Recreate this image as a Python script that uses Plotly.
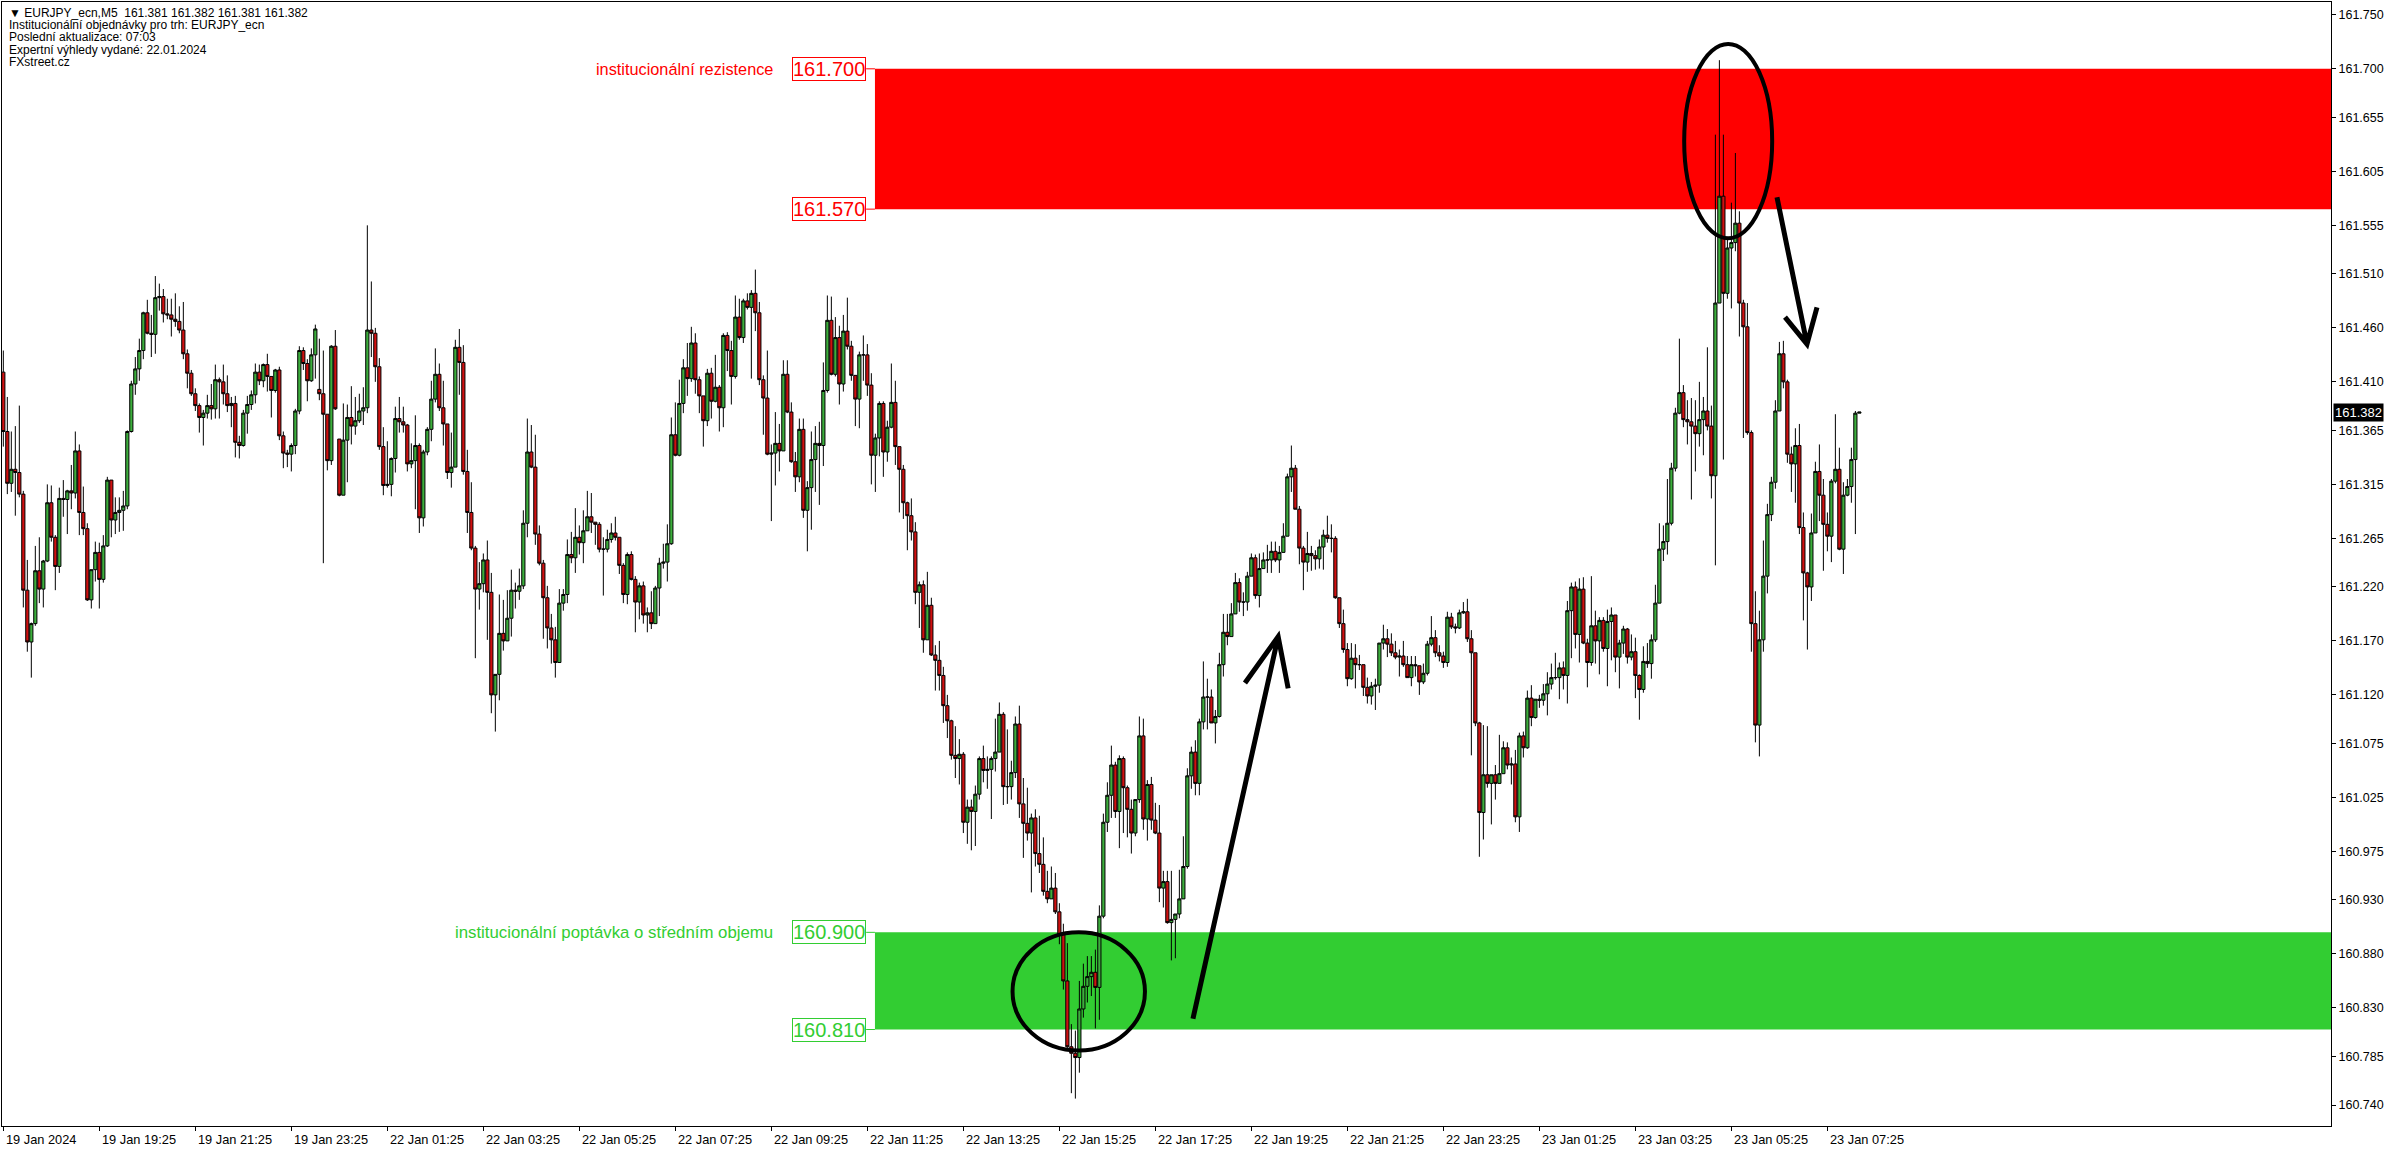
import plotly.graph_objects as go

# ---------------- data (EURJPY_ecn, M5) ----------------
first_open = 161.419
gap_opens = {79: 161.403, 84: 161.357}   # bars that open away from the previous close

closes = [
    161.364, 161.316, 161.329, 161.326, 161.306, 161.217, 161.169, 161.186, 161.235, 161.218,
    161.244, 161.298, 161.266, 161.239, 161.302, 161.301, 161.309, 161.307, 161.346, 161.289,
    161.274, 161.208, 161.236, 161.252, 161.227, 161.258, 161.319, 161.282, 161.289, 161.291,
    161.295, 161.364, 161.408, 161.422, 161.439, 161.474, 161.455, 161.454, 161.488, 161.489,
    161.473, 161.472, 161.468, 161.466, 161.458, 161.436, 161.418, 161.399, 161.388, 161.377,
    161.381, 161.388, 161.385, 161.412, 161.410, 161.399, 161.388, 161.390, 161.354, 161.351,
    161.381, 161.389, 161.398, 161.419, 161.411, 161.426, 161.415, 161.402, 161.421, 161.360,
    161.344, 161.343, 161.351, 161.383, 161.439, 161.427, 161.411, 161.435, 161.459, 161.399,
    161.380, 161.337, 161.443, 161.385, 161.305, 161.356, 161.377, 161.369, 161.374, 161.383,
    161.386, 161.458, 161.455, 161.424, 161.350, 161.314, 161.315, 161.339, 161.376, 161.373,
    161.370, 161.334, 161.337, 161.351, 161.284, 161.345, 161.366, 161.394, 161.417, 161.386,
    161.371, 161.326, 161.331, 161.442, 161.428, 161.327, 161.289, 161.256, 161.218, 161.223,
    161.245, 161.215, 161.120, 161.139, 161.177, 161.170, 161.191, 161.217, 161.216, 161.221,
    161.279, 161.345, 161.331, 161.269, 161.242, 161.210, 161.182, 161.171, 161.150, 161.205,
    161.213, 161.250, 161.247, 161.266, 161.261, 161.272, 161.285, 161.280, 161.278, 161.255,
    161.255, 161.264, 161.270, 161.266, 161.240, 161.213, 161.250, 161.227, 161.206, 161.221,
    161.194, 161.196, 161.186, 161.219, 161.242, 161.243, 161.260, 161.361, 161.342, 161.390,
    161.423, 161.413, 161.446, 161.412, 161.397, 161.374, 161.418, 161.392, 161.405, 161.386,
    161.453, 161.439, 161.415, 161.470, 161.451, 161.485, 161.479, 161.492, 161.474, 161.412,
    161.395, 161.343, 161.344, 161.353, 161.346, 161.417, 161.382, 161.336, 161.322, 161.366,
    161.291, 161.312, 161.338, 161.353, 161.351, 161.402, 161.467, 161.417, 161.451, 161.408,
    161.457, 161.443, 161.416, 161.394, 161.435, 161.435, 161.407, 161.342, 161.358, 161.390,
    161.345, 161.368, 161.391, 161.350, 161.329, 161.298, 161.286, 161.271, 161.215, 161.222,
    161.171, 161.203, 161.157, 161.152, 161.138, 161.110, 161.096, 161.064, 161.061, 161.065,
    161.002, 161.016, 161.012, 161.028, 161.061, 161.050, 161.051, 161.061, 161.067, 161.102,
    161.035, 161.035, 161.048, 161.093, 161.019, 161.001, 160.992, 161.006, 160.973, 160.963,
    160.938, 160.931, 160.941, 160.919, 160.898, 160.855, 160.794, 160.788, 160.784, 160.829,
    160.850, 160.859, 160.863, 160.849, 160.915, 161.002, 161.027, 161.055, 161.012, 161.061,
    161.034, 161.014, 160.992, 161.023, 161.082, 161.005, 161.037, 161.004, 160.992, 160.941,
    160.947, 160.909, 160.912, 160.917, 160.931, 160.961, 161.045, 161.067, 161.038, 161.095,
    161.118, 161.118, 161.094, 161.100, 161.148, 161.178, 161.174, 161.195, 161.224, 161.206,
    161.206, 161.230, 161.247, 161.212, 161.237, 161.245, 161.245, 161.253, 161.245, 161.252,
    161.267, 161.322, 161.330, 161.292, 161.256, 161.243, 161.251, 161.249, 161.246, 161.257,
    161.268, 161.265, 161.265, 161.210, 161.186, 161.162, 161.135, 161.154, 161.148, 161.148,
    161.127, 161.119, 161.128, 161.129, 161.168, 161.172, 161.167, 161.159, 161.155, 161.156,
    161.148, 161.136, 161.148, 161.147, 161.132, 161.140, 161.167, 161.173, 161.159, 161.156,
    161.150, 161.192, 161.183, 161.182, 161.196, 161.197, 161.172, 161.159, 161.094, 161.011,
    161.046, 161.038, 161.046, 161.038, 161.047, 161.071, 161.055, 161.056, 161.007, 161.082,
    161.071, 161.117, 161.099, 161.116, 161.115, 161.121, 161.130, 161.136, 161.136, 161.145,
    161.138, 161.198, 161.220, 161.176, 161.218, 161.168, 161.150, 161.184, 161.170, 161.189,
    161.163, 161.188, 161.194, 161.155, 161.168, 161.181, 161.155, 161.160, 161.138, 161.125,
    161.151, 161.149, 161.171, 161.205, 161.255, 161.262, 161.279, 161.330, 161.381, 161.400,
    161.375, 161.373, 161.369, 161.362, 161.375, 161.383, 161.369, 161.323, 161.483, 161.582,
    161.492, 161.534, 161.539, 161.557, 161.483, 161.461, 161.363, 161.186, 161.092, 161.171,
    161.230, 161.287, 161.317, 161.383, 161.436, 161.410, 161.343, 161.334, 161.351, 161.275,
    161.233, 161.220, 161.270, 161.327, 161.305, 161.278, 161.267, 161.318, 161.329, 161.255,
    161.305, 161.313, 161.338, 161.381, 161.382,
]

highs = [
    161.439, 161.396, 161.364, 161.369, 161.388, 161.309, 161.245, 161.187, 161.258, 161.266,
    161.245, 161.315, 161.314, 161.268, 161.312, 161.319, 161.310, 161.333, 161.364, 161.352,
    161.313, 161.279, 161.236, 161.262, 161.261, 161.268, 161.322, 161.319, 161.303, 161.303,
    161.309, 161.365, 161.411, 161.433, 161.450, 161.475, 161.486, 161.472, 161.508, 161.501,
    161.496, 161.487, 161.487, 161.492, 161.480, 161.484, 161.440, 161.421, 161.404, 161.390,
    161.384, 161.398, 161.408, 161.426, 161.414, 161.426, 161.416, 161.396, 161.397, 161.360,
    161.384, 161.397, 161.402, 161.427, 161.426, 161.427, 161.436, 161.411, 161.422, 161.424,
    161.364, 161.347, 161.353, 161.385, 161.443, 161.442, 161.431, 161.441, 161.463, 161.450,
    161.439, 161.379, 161.444, 161.458, 161.357, 161.390, 161.389, 161.406, 161.396, 161.399,
    161.405, 161.555, 161.503, 161.460, 161.432, 161.368, 161.355, 161.340, 161.387, 161.396,
    161.387, 161.371, 161.353, 161.379, 161.353, 161.347, 161.368, 161.411, 161.441, 161.427,
    161.411, 161.371, 161.363, 161.449, 161.459, 161.444, 161.347, 161.317, 161.258, 161.243,
    161.251, 161.263, 161.233, 161.139, 161.213, 161.208, 161.217, 161.236, 161.224, 161.237,
    161.291, 161.376, 161.370, 161.361, 161.277, 161.245, 161.221, 161.195, 161.183, 161.218,
    161.218, 161.264, 161.271, 161.293, 161.277, 161.291, 161.309, 161.307, 161.280, 161.280,
    161.266, 161.273, 161.279, 161.285, 161.266, 161.242, 161.252, 161.253, 161.230, 161.224,
    161.225, 161.201, 161.216, 161.221, 161.247, 161.260, 161.278, 161.377, 161.391, 161.412,
    161.431, 161.446, 161.461, 161.455, 161.415, 161.397, 161.422, 161.423, 161.435, 161.407,
    161.455, 161.456, 161.448, 161.490, 161.487, 161.487, 161.492, 161.495, 161.514, 161.484,
    161.416, 161.439, 161.352, 161.382, 161.371, 161.430, 161.430, 161.391, 161.345, 161.376,
    161.376, 161.318, 161.364, 161.369, 161.373, 161.428, 161.490, 161.489, 161.470, 161.462,
    161.472, 161.488, 161.448, 161.415, 161.438, 161.453, 161.445, 161.418, 161.362, 161.392,
    161.392, 161.374, 161.427, 161.411, 161.350, 161.333, 161.299, 161.302, 161.280, 161.225,
    161.226, 161.234, 161.210, 161.166, 161.170, 161.146, 161.120, 161.097, 161.091, 161.079,
    161.067, 161.023, 161.023, 161.036, 161.063, 161.073, 161.063, 161.063, 161.098, 161.113,
    161.104, 161.088, 161.059, 161.100, 161.110, 161.043, 161.034, 161.010, 161.014, 161.008,
    160.988, 160.957, 160.961, 160.955, 160.927, 160.908, 160.890, 160.815, 160.809, 160.855,
    160.871, 160.878, 160.878, 160.884, 160.925, 161.010, 161.039, 161.073, 161.058, 161.064,
    161.063, 161.036, 161.023, 161.023, 161.100, 161.098, 161.041, 161.044, 161.020, 161.018,
    160.957, 160.957, 160.957, 160.917, 160.958, 160.989, 161.052, 161.072, 161.078, 161.098,
    161.151, 161.135, 161.125, 161.106, 161.159, 161.195, 161.195, 161.205, 161.233, 161.228,
    161.215, 161.234, 161.251, 161.250, 161.251, 161.252, 161.259, 161.262, 161.262, 161.258,
    161.279, 161.325, 161.351, 161.333, 161.295, 161.258, 161.271, 161.258, 161.254, 161.264,
    161.273, 161.286, 161.278, 161.267, 161.210, 161.199, 161.168, 161.168, 161.167, 161.157,
    161.146, 161.136, 161.132, 161.135, 161.168, 161.185, 161.181, 161.177, 161.170, 161.162,
    161.170, 161.156, 161.156, 161.156, 161.147, 161.149, 161.170, 161.193, 161.180, 161.166,
    161.160, 161.197, 161.196, 161.186, 161.199, 161.206, 161.209, 161.180, 161.159, 161.095,
    161.092, 161.091, 161.046, 161.055, 161.083, 161.077, 161.076, 161.062, 161.069, 161.085,
    161.086, 161.124, 161.129, 161.116, 161.120, 161.130, 161.141, 161.149, 161.159, 161.150,
    161.151, 161.207, 161.224, 161.225, 161.228, 161.229, 161.172, 161.230, 161.198, 161.192,
    161.192, 161.199, 161.201, 161.189, 161.171, 161.184, 161.182, 161.176, 161.173, 161.139,
    161.165, 161.168, 161.176, 161.222, 161.279, 161.277, 161.320, 161.335, 161.386, 161.450,
    161.407, 161.393, 161.395, 161.393, 161.410, 161.396, 161.442, 161.388, 161.639, 161.708,
    161.639, 161.544, 161.576, 161.622, 161.568, 161.486, 161.483, 161.365, 161.216, 161.198,
    161.263, 161.297, 161.322, 161.393, 161.447, 161.448, 161.412, 161.350, 161.367, 161.371,
    161.289, 161.234, 161.288, 161.336, 161.352, 161.320, 161.289, 161.320, 161.380, 161.349,
    161.317, 161.320, 161.349, 161.383, 161.382,
]

lows = [
    161.350, 161.306, 161.308, 161.286, 161.303, 161.201, 161.160, 161.136, 161.184, 161.205,
    161.201, 161.243, 161.262, 161.217, 161.233, 161.285, 161.269, 161.292, 161.302, 161.268,
    161.268, 161.207, 161.200, 161.225, 161.200, 161.224, 161.257, 161.266, 161.269, 161.271,
    161.272, 161.292, 161.363, 161.398, 161.411, 161.431, 161.454, 161.433, 161.436, 161.476,
    161.465, 161.468, 161.452, 161.461, 161.455, 161.431, 161.404, 161.397, 161.383, 161.363,
    161.351, 161.376, 161.375, 161.376, 161.376, 161.389, 161.382, 161.368, 161.340, 161.339,
    161.350, 161.362, 161.384, 161.390, 161.407, 161.405, 161.401, 161.377, 161.400, 161.356,
    161.330, 161.331, 161.327, 161.343, 161.380, 161.421, 161.392, 161.410, 161.413, 161.393,
    161.242, 161.328, 161.333, 161.384, 161.304, 161.306, 161.317, 161.352, 161.361, 161.372,
    161.370, 161.381, 161.433, 161.410, 161.347, 161.305, 161.312, 161.304, 161.326, 161.363,
    161.363, 161.327, 161.330, 161.292, 161.270, 161.276, 161.342, 161.355, 161.391, 161.383,
    161.351, 161.320, 161.312, 161.333, 161.398, 161.324, 161.270, 161.254, 161.154, 161.199,
    161.215, 161.171, 161.103, 161.086, 161.115, 161.161, 161.170, 161.174, 161.200, 161.208,
    161.218, 161.266, 161.330, 161.259, 161.240, 161.172, 161.163, 161.149, 161.136, 161.150,
    161.198, 161.205, 161.242, 161.233, 161.250, 161.242, 161.272, 161.270, 161.259, 161.252,
    161.212, 161.252, 161.261, 161.263, 161.232, 161.205, 161.204, 161.226, 161.178, 161.190,
    161.186, 161.178, 161.181, 161.186, 161.193, 161.237, 161.225, 161.259, 161.341, 161.341,
    161.381, 161.397, 161.410, 161.399, 161.381, 161.350, 161.369, 161.376, 161.391, 161.364,
    161.368, 161.420, 161.389, 161.413, 161.449, 161.446, 161.477, 161.413, 161.457, 161.407,
    161.361, 161.342, 161.281, 161.314, 161.327, 161.347, 161.381, 161.335, 161.308, 161.317,
    161.284, 161.253, 161.273, 161.308, 161.296, 161.332, 161.400, 161.416, 161.415, 161.389,
    161.401, 161.440, 161.411, 161.369, 161.367, 161.411, 161.397, 161.315, 161.308, 161.341,
    161.322, 161.336, 161.367, 161.333, 161.289, 161.283, 161.254, 161.263, 161.204, 161.182,
    161.159, 161.171, 161.156, 161.124, 161.124, 161.094, 161.080, 161.060, 161.043, 161.037,
    160.992, 160.982, 160.976, 160.980, 161.023, 161.039, 161.033, 161.005, 161.049, 161.067,
    161.018, 161.019, 161.023, 161.043, 161.006, 160.969, 160.985, 160.937, 160.961, 160.955,
    160.934, 160.927, 160.933, 160.917, 160.889, 160.847, 160.793, 160.751, 160.746, 160.770,
    160.821, 160.835, 160.841, 160.811, 160.819, 160.913, 160.993, 161.006, 161.006, 160.978,
    160.992, 160.988, 160.973, 160.989, 161.020, 160.995, 160.985, 160.995, 160.991, 160.928,
    160.923, 160.908, 160.874, 160.876, 160.913, 160.931, 160.959, 161.033, 161.027, 161.027,
    161.088, 161.088, 161.094, 161.075, 161.099, 161.137, 161.166, 161.174, 161.195, 161.197,
    161.193, 161.198, 161.230, 161.209, 161.201, 161.237, 161.233, 161.233, 161.243, 161.233,
    161.252, 161.267, 161.308, 161.292, 161.241, 161.217, 161.234, 161.235, 161.236, 161.237,
    161.236, 161.261, 161.252, 161.209, 161.182, 161.159, 161.128, 161.134, 161.126, 161.143,
    161.119, 161.112, 161.111, 161.106, 161.122, 161.162, 161.155, 161.156, 161.153, 161.137,
    161.146, 161.136, 161.128, 161.137, 161.120, 161.130, 161.138, 161.165, 161.155, 161.151,
    161.145, 161.146, 161.181, 161.177, 161.181, 161.195, 161.169, 161.064, 161.091, 160.970,
    160.986, 161.034, 161.000, 161.023, 161.038, 161.047, 161.051, 161.037, 161.002, 160.993,
    161.062, 161.070, 161.091, 161.098, 161.108, 161.110, 161.101, 161.125, 161.134, 161.116,
    161.125, 161.112, 161.154, 161.163, 161.150, 161.167, 161.127, 161.147, 161.149, 161.139,
    161.160, 161.128, 161.152, 161.141, 161.126, 161.158, 161.149, 161.152, 161.117, 161.097,
    161.122, 161.145, 161.135, 161.169, 161.205, 161.244, 161.250, 161.277, 161.327, 161.380,
    161.368, 161.352, 161.301, 161.327, 161.350, 161.342, 161.365, 161.302, 161.240, 161.487,
    161.338, 161.487, 161.478, 161.531, 161.452, 161.358, 161.361, 161.160, 161.076, 161.063,
    161.160, 161.214, 161.281, 161.311, 161.387, 161.404, 161.335, 161.308, 161.298, 161.269,
    161.189, 161.162, 161.207, 161.270, 161.281, 161.235, 161.253, 161.243, 161.316, 161.254,
    161.232, 161.304, 161.298, 161.269, 161.381,
]

tick_index = [0, 24, 48, 72, 96, 120, 144, 168, 192, 216,
              240, 264, 288, 312, 336, 360, 384, 408, 432, 456]
tick_labels = ["19 Jan 2024", "19 Jan 19:25", "19 Jan 21:25", "19 Jan 23:25",
               "22 Jan 01:25", "22 Jan 03:25", "22 Jan 05:25", "22 Jan 07:25",
               "22 Jan 09:25", "22 Jan 11:25", "22 Jan 13:25", "22 Jan 15:25",
               "22 Jan 17:25", "22 Jan 19:25", "22 Jan 21:25", "22 Jan 23:25",
               "23 Jan 01:25", "23 Jan 03:25", "23 Jan 05:25", "23 Jan 07:25"]
price_ticks = [161.750, 161.700, 161.655, 161.605, 161.555, 161.510, 161.460, 161.410,
               161.365, 161.315, 161.265, 161.220, 161.170, 161.120, 161.075, 161.025,
               160.975, 160.930, 160.880, 160.830, 160.785, 160.740]

resistance_zone = (161.570, 161.700)
demand_zone = (160.810, 160.900)
last_price = 161.382

header_lines = ["\u25bc EURJPY_ecn,M5  161.381 161.382 161.381 161.382",
                "Institucionální objednávky pro trh: EURJPY_ecn",
                "Poslední aktualizace: 07:03",
                "Expertní výhledy vydané: 22.01.2024",
                "FXstreet.cz"]

# ---------------- build OHLC ----------------
opens = []
for i in range(len(closes)):
    if i == 0:
        opens.append(first_open)
    elif i in gap_opens:
        opens.append(gap_opens[i])
    else:
        opens.append(closes[i - 1])
highs = [max(h, o, c) for h, o, c in zip(highs, opens, closes)]
lows = [min(l, o, c) for l, o, c in zip(lows, opens, closes)]
xs = list(range(len(closes)))

# ---------------- geometry ----------------
W, H = 2396, 1154
ML, MR, MT, MB = 2, 65, 2, 28
X_RANGE = [-0.33, 581.9]
Y_RANGE = [160.7206, 161.7619]
ZONE_X0 = 217.9
BOX_X = 215.7
LABEL_X = 192.9

FONT = "Liberation Sans, Arial, sans-serif"
RED = "#ff0000"
GREEN = "#32cd32"

fig = go.Figure()
fig.add_trace(go.Candlestick(
    x=xs, open=opens, high=highs, low=lows, close=closes,
    increasing=dict(fillcolor="#3cae3c", line=dict(color="black", width=1)),
    decreasing=dict(fillcolor="#d01010", line=dict(color="black", width=1)),
    whiskerwidth=0, hoverinfo="skip", showlegend=False,
))

shapes = []
# zones
for (lo, hi), col in [(resistance_zone, RED), (demand_zone, GREEN)]:
    shapes.append(dict(type="rect", xref="x", yref="y", x0=ZONE_X0, x1=X_RANGE[1],
                       y0=lo, y1=hi, fillcolor=col, line=dict(width=0), layer="below"))
    for lvl in (lo, hi):
        shapes.append(dict(type="line", xref="x", yref="y", x0=BOX_X, x1=ZONE_X0,
                           y0=lvl, y1=lvl, line=dict(color=col, width=1), layer="below"))

# ellipses
ellipses = [(252.3, 285.4, 160.7905, 160.900), (420.2, 442.2, 161.543, 161.723)]
for x0, x1, y0, y1 in ellipses:
    shapes.append(dict(type="circle", xref="x", yref="y", x0=x0, x1=x1, y0=y0, y1=y1,
                       line=dict(color="black", width=4)))

# arrows (shaft start, tip, left wing, right wing)
arrows = [
    ((297.4, 160.820), (318.7, 161.174), (310.4, 161.131), (321.2, 161.126)),
    ((443.4, 161.581), (450.9, 161.445), (445.4, 161.470), (453.4, 161.479)),
]
for s, t, l, r in arrows:
    path = (f"M {s[0]},{s[1]} L {t[0]},{t[1]} "
            f"M {l[0]},{l[1]} L {t[0]},{t[1]} L {r[0]},{r[1]}")
    shapes.append(dict(type="path", xref="x", yref="y", path=path,
                       line=dict(color="black", width=5)))

annotations = []
# zone labels
zone_texts = [("institucionální rezistence", resistance_zone, RED, 16.3),
              ("institucionální poptávka o středním objemu", demand_zone, GREEN, 16.8)]
for txt, (lo, hi), col, fs in zone_texts:
    annotations.append(dict(x=LABEL_X, y=hi, xref="x", yref="y", text=txt,
                            showarrow=False, xanchor="right", yanchor="middle",
                            font=dict(family=FONT, size=fs, color=col)))
    for lvl in (hi, lo):
        annotations.append(dict(x=BOX_X, y=lvl, xref="x", yref="y", text=f"{lvl:.3f}",
                                showarrow=False, xanchor="right", yanchor="middle",
                                font=dict(family=FONT, size=20, color=col),
                                bgcolor="white", bordercolor=col, borderwidth=1,
                                borderpad=0))

# time labels (left aligned at their tick, MT4 style)
for idx, lab in zip(tick_index, tick_labels):
    annotations.append(dict(x=idx, y=0, xref="x", yref="paper", text=lab,
                            showarrow=False, xanchor="left", yanchor="top",
                            xshift=1, yshift=-4,
                            font=dict(family=FONT, size=12.8, color="black")))

# current price tag
annotations.append(dict(x=1, y=last_price, xref="paper", yref="y", text=f"{last_price:.3f}",
                        showarrow=False, xanchor="left", yanchor="middle", xshift=2,
                        font=dict(family=FONT, size=13, color="white"),
                        bgcolor="black", borderpad=1))

# header text (top-left)
plot_h = H - MT - MB
for k, line in enumerate(header_lines):
    yc = 12.7 + 12.3 * k
    annotations.append(dict(x=0.0022, y=1 - (yc - MT) / plot_h, xref="paper", yref="paper",
                            text=line, showarrow=False, xanchor="left", yanchor="middle",
                            font=dict(family=FONT, size=12, color="black")))

fig.update_layout(
    width=W, height=H,
    margin=dict(l=ML, r=MR, t=MT, b=MB),
    paper_bgcolor="white", plot_bgcolor="white",
    showlegend=False, hovermode=False,
    boxgap=0.2, boxgroupgap=0,
    shapes=shapes, annotations=annotations,
    xaxis=dict(range=X_RANGE, rangeslider=dict(visible=False), showgrid=False,
               zeroline=False, showline=True, linecolor="black", linewidth=1, mirror=True,
               tickmode="array", tickvals=tick_index, ticks="outside", ticklen=4,
               tickcolor="black", showticklabels=False),
    yaxis=dict(range=Y_RANGE, side="right", showgrid=False, zeroline=False,
               showline=True, linecolor="black", linewidth=1, mirror=True,
               tickmode="array", tickvals=price_ticks,
               ticktext=[f"{v:.3f}" for v in price_ticks],
               ticks="outside", ticklen=4, tickcolor="black",
               tickfont=dict(family=FONT, size=12.5, color="black")),
)

fig.write_html("out.html", config={"displayModeBar": False},
               post_script="document.body.style.margin='0';document.body.style.overflow='hidden';")
